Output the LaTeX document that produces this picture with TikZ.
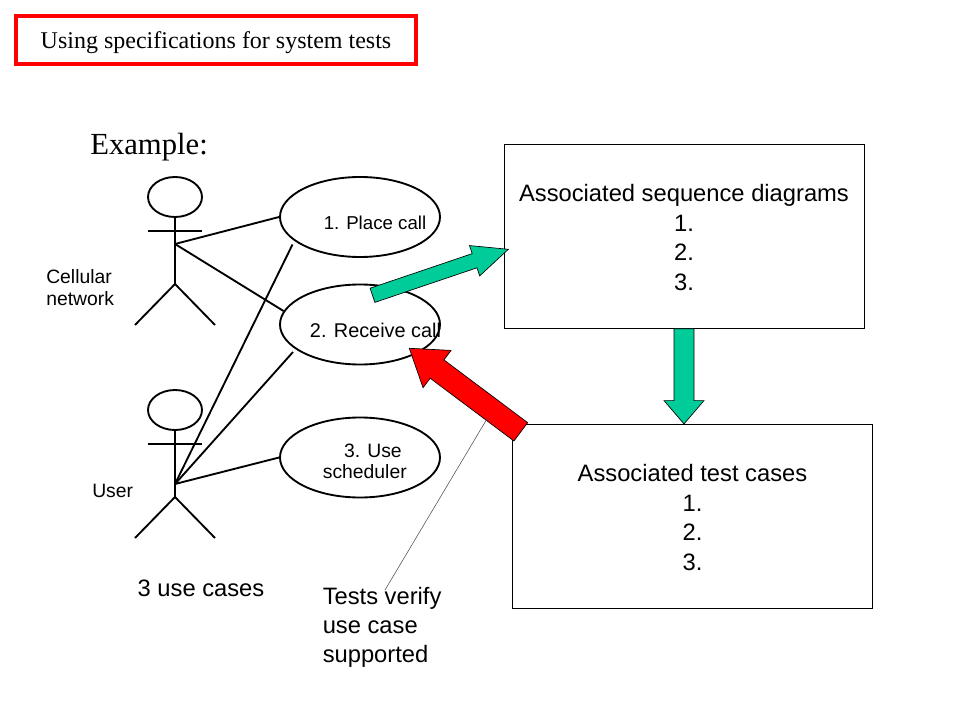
\documentclass[tikz,border=0pt]{standalone}
\usepackage{fontspec}
\setmainfont{Liberation Sans}
\newfontfamily\serifface{Liberation Serif}
\usetikzlibrary{calc, positioning, shapes.geometric}

\definecolor{arrowgreen}{RGB}{0,204,153}
\definecolor{arrowred}{RGB}{255,0,0}

\tikzset{
  usecase/.style={draw, ellipse, line width=1.4pt, minimum width=120pt, minimum height=60pt, inner sep=0pt},
  infobox/.style={draw, line width=0.75pt, minimum width=270pt, minimum height=137.8pt, align=center, inner sep=0pt, font=\fontsize{17.8}{22.2}\selectfont},
  smalltext/.style={inner sep=0pt, font=\fontsize{#1}{16}\selectfont},
  smalltext/.default=14.5,
  bigtext/.style={inner sep=0pt, font=\fontsize{17.8}{21.5}\selectfont},
  link/.style={line width=1.4pt},
  actor/.pic={
    \draw[link] (0,0) ellipse (27 and 20);
    \draw[link] (0,20) -- (0,87);
    \draw[link] (-27,34) -- (27,34);
    \draw[link] (-40,128) -- (0,87) -- (40,128);
  }
}

% tail, tip, half width of shaft, half width of head, length of head
\newcommand{\blockarrow}[6]{
  \coordinate (headbase) at ($(#3)!#6!(#2)$);
  \draw[#1, line width=0.5pt, line join=miter]
    ($(#2)!#4!90:(#3)$) -- ($(headbase)!#4!90:(#3)$) -- ($(headbase)!#5!90:(#3)$) -- (#3)
    -- ($(headbase)!#5!-90:(#3)$) -- ($(headbase)!#4!-90:(#3)$) -- ($(#2)!#4!-90:(#3)$) -- cycle;
}
\newcommand{\firstline}{\rule{0pt}{15pt}}

\begin{document}
\begin{tikzpicture}[x=0.75pt, y=-0.75pt]
\useasboundingbox (0,0) rectangle (960,720);
% heading
\node[draw=arrowred, line width=3pt, minimum width=300pt, minimum height=36pt, inner sep=0pt, text height=16.9pt, text depth=3.9pt, font=\serifface\fontsize{18}{22}\selectfont] (heading) at (216,40) {Using specifications for system tests};
\node[anchor=west, inner sep=0pt, font=\serifface\fontsize{23}{28}\selectfont] (example) at (90,147) {Example:};
% actors
\pic at (175,197) {actor};
\pic at (175,410) {actor};
\coordinate (cellularhub) at (175,244);
\coordinate (userhub) at (175,484);
\node[smalltext, anchor=west, align=left] (cellular) at (46,287.5) {Cellular\\network};
\node[smalltext, anchor=west] (user) at (92,491) {User};
% use cases
\node[usecase] (placecall) at (360,217) {};
\node[usecase] (receivecall) at (360,324.5) {};
\node[usecase] (scheduler) at (360,457.5) {};
\node[smalltext=14] (placetext) at (375,223) {1. Place call};
\node[smalltext=14.9] (receivetext) at (375.5,330) {2. Receive call};
\node[smalltext, align=right, anchor=east] (schedulertext) at (407,461.5) {3. Use\hspace*{3.75pt}\\scheduler};
% links
\coordinate (placefoot) at (292.5,244.5);
\coordinate (receivefoot) at (293,352);
\draw[link] (cellularhub) -- (placecall.west);
\draw[link] (cellularhub) -- (receivecall.170);
\draw[link] (userhub) -- (placefoot);
\draw[link] (userhub) -- (receivefoot);
\draw[link] (userhub) -- (scheduler.west);
% boxes
\node[infobox] (seqbox) at (684,236.3) {\firstline Associated sequence diagrams\\1.\\2.\\3.};
\node[infobox] (testbox) at (692.5,516.3) {\firstline Associated test cases\\1.\\2.\\3.};
% block arrows
\coordinate (greentail) at (372.5,295.3);
\coordinate (greentip) at (508.3,249.3);
\coordinate (redtail) at (520.8,431.8);
\coordinate (redtip) at (409.3,348.3);
\coordinate (downtip) at (seqbox.south |- testbox.north);
\blockarrow{fill=arrowgreen}{greentail}{greentip}{5.6pt}{12pt}{26.7pt}
\blockarrow{fill=arrowgreen}{seqbox.south}{downtip}{7.5pt}{15pt}{17.5pt}
\blockarrow{fill=arrowred}{redtail}{redtip}{8.6pt}{17.5pt}{26pt}
% note
\node[bigtext] (usecases) at (201,588) {3 use cases};
\node[bigtext, anchor=north west, align=left] (testsnote) at (322.5,587.5) {Tests verify\\use case\\supported};
\coordinate (noteend) at (487.7,417.7);
\coordinate (notefoot) at (385,590);
\draw[line width=0.4pt, black!70] (notefoot) -- (noteend);
\end{tikzpicture}
\end{document}
